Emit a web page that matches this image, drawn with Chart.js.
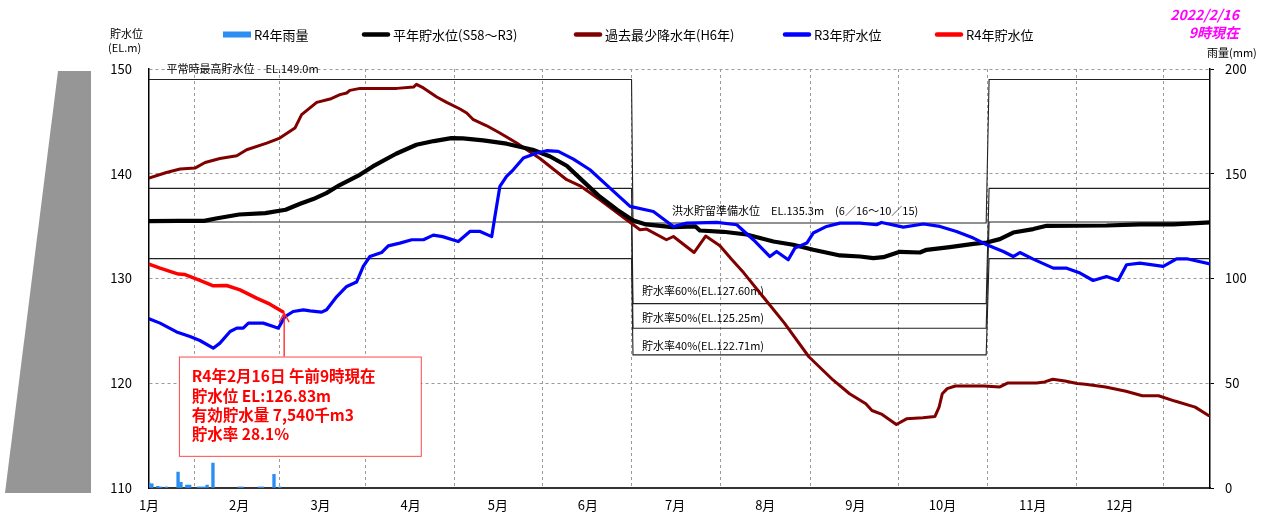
<!DOCTYPE html>
<html>
<head>
<meta charset="utf-8">
<title>貯水位グラフ</title>
<script src="https://cdn.jsdelivr.net/npm/chart.js@4"></script>
<style>
  html, body { margin: 0; padding: 0; background: #fff; }
  #wrap { width: 1276px; height: 519px; position: relative; }
</style>
</head>
<body>
<div id="wrap"><canvas id="damChart"></canvas></div>
<script>
const FONT = '"Noto Sans CJK JP", "Noto Sans", sans-serif';

// x axis: day of year (0 = 1/1), ticks at the first of each month
const monthDays = [0, 31, 59, 90, 120, 151, 181, 212, 243, 273, 304, 334];
const monthLabels = ['1月', '2月', '3月', '4月', '5月', '6月', '7月', '8月', '9月', '10月', '11月', '12月'];

// [day, EL.m]
const normalLevel = [
  [0, 135.48], [10, 135.5], [19, 135.5], [23, 135.73], [31, 136.11], [40, 136.24], [47, 136.56],
  [52, 137.13], [56.5, 137.58], [61, 138.15], [65.6, 138.92], [72.5, 139.9], [77, 140.7],
  [85, 141.91], [92, 142.77], [98, 143.12], [104, 143.4], [108, 143.37], [115, 143.18],
  [123, 142.87], [132, 142.29], [138, 141.65], [143.7, 140.76], [149.4, 139.27], [155, 137.83],
  [161, 136.56], [166.6, 135.54], [171, 135.16], [180, 134.91], [188, 134.97], [189.5, 134.58],
  [197.6, 134.46], [205.6, 134.2], [214.8, 133.53], [221.6, 133.22], [228.5, 132.74],
  [237.7, 132.2], [244.6, 132.1], [249.2, 131.95], [252.6, 132.04], [258.3, 132.55],
  [265.2, 132.48], [267.5, 132.74], [275.5, 133.0], [283.6, 133.31], [288.2, 133.44],
  [292.7, 133.76], [297.3, 134.39], [304.2, 134.72], [308.8, 135.03], [329.4, 135.06],
  [340.9, 135.16], [352.4, 135.16], [365, 135.35]
];

const dryYearLevel = [
  [0, 139.59], [6, 140.12], [10.7, 140.45], [15.8, 140.54], [19.3, 141.08], [24.4, 141.46],
  [30.2, 141.72], [33.6, 142.29], [40.5, 142.93], [45, 143.41], [50.2, 144.36], [52.5, 145.64],
  [57.7, 146.81], [62.3, 147.13], [65.7, 147.55], [68, 147.71], [69.1, 147.96], [72.6, 148.15],
  [85.2, 148.15], [91, 148.28], [92, 148.53], [94.4, 148.19], [99, 147.33], [102.4, 146.81],
  [107, 146.18], [109.3, 145.8], [111.6, 145.16], [116.2, 144.58], [120.7, 143.89],
  [126.5, 142.93], [134.5, 141.46], [143.7, 139.43], [148.3, 138.85], [155.1, 137.52],
  [162, 136.08], [168.9, 134.65], [171.2, 134.72], [178, 133.7], [180.4, 134.01],
  [187.5, 132.48], [191.5, 134.05], [196.4, 133.12], [200.4, 131.83], [204.6, 130.54],
  [210.2, 128.62], [213, 127.66], [218.6, 125.74], [227, 122.53], [235.4, 120.29], [241, 119.0],
  [246.6, 118.04], [248.7, 117.4], [252.2, 117.02], [257.1, 116.06], [260.6, 116.6],
  [266.2, 116.7], [270.4, 116.83], [271.8, 117.72], [272.9, 119.0], [274.6, 119.49],
  [277.4, 119.74], [287.2, 119.74], [292.7, 119.65], [295.5, 120.03], [305.3, 120.03],
  [308.1, 120.13], [310.9, 120.38], [315.1, 120.22], [319.3, 119.97], [322.1, 119.9],
  [329.1, 119.65], [336.1, 119.23], [341.7, 118.81], [347.3, 118.81], [352.9, 118.3],
  [359.9, 117.72], [364.5, 116.92]
];

const r3Level = [
  [0, 126.15], [3.8, 125.74], [9.5, 124.9], [14.1, 124.46], [17.5, 124.08], [22.1, 123.35],
  [24.4, 123.83], [27.9, 124.94], [30.2, 125.26], [32.4, 125.26], [34.2, 125.74], [39.3, 125.74],
  [42.8, 125.42], [44.5, 125.26], [46.8, 126.37], [49.6, 126.85], [53.1, 127.01], [55.4, 126.91],
  [59.4, 126.79], [61.1, 127.01], [64.6, 128.28], [68, 129.24], [71.4, 129.66], [73.7, 131.15],
  [76, 132.1], [80, 132.48], [82.3, 133.12], [86.3, 133.38], [90.4, 133.7], [94.4, 133.7],
  [97.8, 134.14], [101, 134.0], [106.4, 133.53], [110.4, 134.49], [113.9, 134.49], [117.9, 134.0],
  [119, 135.92], [120.7, 138.79], [123, 139.74], [125.3, 140.38], [128.8, 141.5], [133.4, 141.98],
  [136.8, 142.2], [140.8, 142.13], [146, 141.4], [151.7, 140.38], [158.6, 138.63],
  [165.5, 136.88], [173.5, 136.4], [180.4, 134.97], [185, 135.29], [195.3, 135.35],
  [202.2, 135.13], [207.9, 133.7], [213.6, 132.1], [215.9, 132.58], [219.9, 131.79],
  [222.2, 132.9], [226.3, 133.38], [228.5, 134.34], [233.1, 134.97], [237.7, 135.29],
  [244.6, 135.29], [250.3, 135.13], [252, 135.35], [259.5, 134.91], [266.4, 135.2],
  [272.1, 134.97], [277.8, 134.49], [283.6, 133.86], [288.2, 133.22], [293.9, 132.58],
  [297.3, 132.1], [299.6, 132.48], [304.2, 131.85], [311.1, 130.99], [315.7, 130.99],
  [320.3, 130.52], [324.8, 129.81], [329.4, 130.19], [333.4, 129.81], [336.3, 131.31],
  [340.9, 131.47], [348.9, 131.15], [353.5, 131.88], [357, 131.88], [365, 131.4]
];

const r4Level = [
  [0, 131.37], [3.8, 130.99], [10.1, 130.42], [12.4, 130.38], [17.5, 129.81], [22.1, 129.3],
  [26.7, 129.33], [31.3, 128.92], [37, 128.13], [41.6, 127.55], [46, 126.83]
];

// R4 daily rainfall (mm)
const rainDays = [0, 1, 3, 4, 6, 10, 11, 13, 14, 17, 18, 19, 20, 22, 31, 32, 38, 39, 43, 45];
const rainMm = [2.3, 2.0, 0.8, 0.5, 0.5, 7.6, 2.7, 1.4, 1.4, 0.5, 0.5, 0.5, 1.4, 11.9, 0.5, 0.5, 0.5, 0.5, 6.5, 0.5];

// operating levels: normal season / flood season (6/16 - 10/15)
const ruleDays = [0, 166, 166.5, 288, 289, 365];
const ruleNormal = [149.0, 138.6, 135.4, 131.9];
const ruleFlood = [135.3, 127.6, 125.25, 122.71];

const toPoints = pairs => pairs.map(p => ({ x: p[0], y: p[1] }));

function rulePoints(i) {
  const lv = [ruleNormal[i], ruleNormal[i], ruleFlood[i], ruleFlood[i], ruleNormal[i], ruleNormal[i]];
  return ruleDays.map((d, k) => ({ x: d, y: lv[k] }));
}

const lineBase = { type: 'line', yAxisID: 'y', pointRadius: 0, tension: 0, fill: false,
  borderJoinStyle: 'round', borderCapStyle: 'round' };

const datasets = [
  { ...lineBase, label: 'R4年貯水位', data: toPoints(r4Level), borderColor: '#ff0000', borderWidth: 3.5 },
  { ...lineBase, label: 'R3年貯水位', data: toPoints(r3Level), borderColor: '#0000ff', borderWidth: 3.2 },
  { ...lineBase, label: '平年貯水位(S58～R3)', data: toPoints(normalLevel), borderColor: '#000000', borderWidth: 4.2 },
  { ...lineBase, label: '過去最少降水年(H6年)', data: toPoints(dryYearLevel), borderColor: '#800000', borderWidth: 3 }
];
ruleNormal.forEach((_, i) => {
  datasets.push({ ...lineBase, label: 'rule' + i, data: rulePoints(i), borderColor: '#222', borderWidth: 1.1,
    borderCapStyle: 'butt', borderJoinStyle: 'miter' });
});
datasets.push({
  type: 'bar', label: 'R4年雨量', yAxisID: 'y2',
  data: rainDays.map((d, i) => ({ x: d, y: rainMm[i] })),
  backgroundColor: '#2b8ef3', barThickness: 2.7
});

const legendOrder = ['R4年雨量', '平年貯水位(S58～R3)', '過去最少降水年(H6年)', 'R3年貯水位', 'R4年貯水位'];
const legendX = [223, 362, 574, 783, 935];

const notes = [
  { text: '平常時最高貯水位　EL.149.0m', day: 6, level: 150.0 },
  { text: '洪水貯留準備水位　EL.135.3m　(6／16～10／15)', day: 179.9, level: 136.47 },
  { text: '貯水率60%(EL.127.60m)', day: 169.6, level: 128.83 },
  { text: '貯水率50%(EL.125.25m)', day: 169.6, level: 126.25 },
  { text: '貯水率40%(EL.122.71m)', day: 169.6, level: 123.6 }
];

const nowBox = { day0: 10.3, day1: 93.5, top: 122.55, bottom: 113.07, textDay: 14.7, arrowDay: 46.5, arrowTo: 126.7 };
const nowLines = ['R4年2月16日 午前9時現在', '貯水位 EL:126.83m', '有効貯水量 7,540千m3', '貯水率 28.1%'];
const nowLineLevels = [120.64, 118.8, 116.98, 115.17];

const decor = {
  id: 'decor',
  beforeDraw(chart) {
    const { ctx, chartArea } = chart;
    ctx.save();
    ctx.fillStyle = '#fff';
    ctx.fillRect(0, 0, chart.width, chart.height);
    // dam body silhouette
    ctx.fillStyle = '#969696';
    ctx.beginPath();
    ctx.moveTo(58, chartArea.top + 2);
    ctx.lineTo(91, chartArea.top + 2);
    ctx.lineTo(91, chartArea.bottom + 5);
    ctx.lineTo(5, chartArea.bottom + 5);
    ctx.closePath();
    ctx.fill();
    ctx.restore();
  },
  beforeDatasetsDraw(chart) {
    const { ctx, scales } = chart;
    ctx.save();
    ctx.font = '11px ' + FONT;
    ctx.fillStyle = '#000';
    ctx.textBaseline = 'middle';
    notes.forEach(n => {
      ctx.fillText(n.text, scales.x.getPixelForValue(n.day), scales.y.getPixelForValue(n.level));
    });
    ctx.restore();
  },
  afterDatasetsDraw(chart) {
    const { ctx, scales } = chart;
    const x0 = scales.x.getPixelForValue(nowBox.day0);
    const x1 = scales.x.getPixelForValue(nowBox.day1);
    const y0 = scales.y.getPixelForValue(nowBox.top);
    const y1 = scales.y.getPixelForValue(nowBox.bottom);
    ctx.save();
    ctx.fillStyle = '#fff';
    ctx.fillRect(x0, y0, x1 - x0, y1 - y0);
    ctx.strokeStyle = '#ff4a4a';
    ctx.lineWidth = 1;
    ctx.strokeRect(x0 + 0.5, y0 + 0.5, x1 - x0, y1 - y0);

    ctx.fillStyle = '#ff0000';
    ctx.font = 'bold 15.5px ' + FONT;
    ctx.textBaseline = 'middle';
    const tx = scales.x.getPixelForValue(nowBox.textDay);
    nowLines.forEach((t, i) => ctx.fillText(t, tx, scales.y.getPixelForValue(nowLineLevels[i])));

    // arrow to the latest level
    const ax = scales.x.getPixelForValue(nowBox.arrowDay);
    const ay = scales.y.getPixelForValue(nowBox.arrowTo);
    ctx.strokeStyle = '#ff2020';
    ctx.lineWidth = 1.3;
    ctx.beginPath();
    ctx.moveTo(ax, y0);
    ctx.lineTo(ax, ay);
    ctx.moveTo(ax - 5, ay + 9);
    ctx.lineTo(ax, ay);
    ctx.lineTo(ax + 5, ay + 9);
    ctx.stroke();
    ctx.restore();
  },
  afterDraw(chart) {
    const { ctx } = chart;
    ctx.save();
    ctx.fillStyle = '#000';
    ctx.textBaseline = 'middle';
    ctx.font = '11px ' + FONT;
    ctx.fillText('貯水位', 110, 34);
    ctx.fillText('(EL.m)', 108, 48);
    ctx.fillText('雨量(mm)', 1207, 53);

    // legend
    ctx.font = '13px ' + FONT;
    legendOrder.forEach((label, i) => {
      const ds = chart.data.datasets.find(d => d.label === label);
      const sx = legendX[i];
      if (ds.type === 'bar') {
        ctx.fillStyle = ds.backgroundColor;
        ctx.fillRect(sx, 31.5, 28, 6);
      } else {
        ctx.strokeStyle = ds.borderColor;
        ctx.lineWidth = 4.5;
        ctx.lineCap = 'round';
        ctx.beginPath();
        ctx.moveTo(sx + 2, 34.5);
        ctx.lineTo(sx + 26, 34.5);
        ctx.stroke();
      }
      ctx.fillStyle = '#000';
      ctx.fillText(label, sx + 31, 35);
    });

    // time stamp
    ctx.fillStyle = '#ff00ff';
    ctx.font = 'italic bold 14px ' + FONT;
    ctx.textAlign = 'right';
    ctx.fillText('2022/2/16', 1239, 15);
    ctx.fillText('9時現在', 1239, 33);
    ctx.restore();
  }
};

Chart.defaults.font.family = FONT;
Chart.defaults.color = '#000';

new Chart(document.getElementById('damChart'), {
  type: 'line',
  data: { datasets },
  options: {
    responsive: true,
    maintainAspectRatio: false,
    animation: false,
    layout: { padding: { top: 69, left: 0, right: 0, bottom: 0 } },
    plugins: { legend: { display: false }, tooltip: { enabled: false } },
    scales: {
      x: {
        type: 'linear', min: 0, max: 365, offset: false,
        afterBuildTicks: s => { s.ticks = monthDays.map(v => ({ value: v })); },
        afterFit: s => { s.height = 31; },
        ticks: { callback: (v, i) => monthLabels[i], font: { size: 13 }, padding: 9, maxRotation: 0, autoSkip: false },
        grid: { color: '#9a9a9a', lineWidth: 1, drawTicks: false },
        border: { display: true, color: '#333', width: 2, dash: [3, 3] }
      },
      y: {
        position: 'left', min: 110, max: 150,
        afterFit: s => { s.width = 149; },
        ticks: { stepSize: 10, font: { size: 13 }, padding: 17 },
        grid: { color: '#9a9a9a', lineWidth: 1, drawTicks: false },
        border: { display: true, color: '#000', width: 1.5, dash: [3, 3] }
      },
      y2: {
        position: 'right', min: 0, max: 200,
        afterFit: s => { s.width = 66; },
        ticks: { stepSize: 50, font: { size: 13 }, padding: 11 },
        grid: { drawOnChartArea: false, drawTicks: true, tickLength: 4, tickColor: '#000' },
        border: { display: true, color: '#000', width: 1.5 }
      }
    }
  },
  plugins: [decor]
});
</script>
</body>
</html>
